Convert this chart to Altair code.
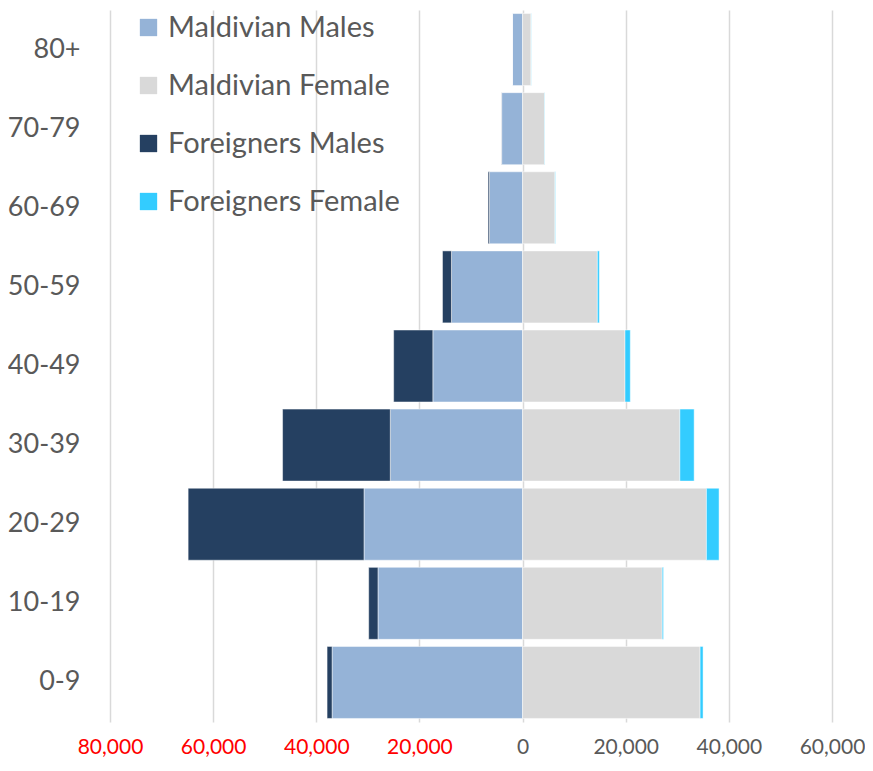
import altair as alt
import pandas as pd

age_groups = ["80+", "70-79", "60-69", "50-59", "40-49", "30-39", "20-29", "10-19", "0-9"]
maldivian_males = [1950, 4060, 6440, 13790, 17400, 25650, 30750, 28040, 36940]
maldivian_female = [1630, 4250, 6270, 14500, 19860, 30500, 35650, 27080, 34420]
foreigners_males = [0, 50, 250, 1740, 7600, 20890, 34100, 1800, 970]
foreigners_female = [50, 80, 100, 390, 1030, 2770, 2450, 250, 580]

series = ["Maldivian Males", "Maldivian Female", "Foreigners Males", "Foreigners Female"]
colors = ["#95B3D7", "#D9D9D9", "#254061", "#33CCFF"]

rows = []
for i, g in enumerate(age_groups):
    mm, mf, fm, ff = maldivian_males[i], maldivian_female[i], foreigners_males[i], foreigners_female[i]
    rows.append({"age": g, "series": series[0], "start": 0, "end": -mm})
    rows.append({"age": g, "series": series[1], "start": 0, "end": mf})
    rows.append({"age": g, "series": series[2], "start": -mm, "end": -(mm + fm)})
    rows.append({"age": g, "series": series[3], "start": mf, "end": mf + ff})
df = pd.DataFrame(rows)

font = "Lato"
gray = "#595959"

chart = alt.Chart(df).mark_bar(stroke="#FFFFFF", strokeWidth=0.8, strokeOpacity=0.6).encode(
    x=alt.X(
        "start:Q",
        scale=alt.Scale(domain=[-80000, 60000], nice=False, zero=False),
        axis=alt.Axis(
            title=None,
            values=[-80000, -60000, -40000, -20000, 0, 20000, 40000, 60000],
            labelExpr="format(abs(datum.value), ',')",
            labelColor=alt.expr("datum.value < 0 ? '#FF0000' : '#595959'"),
            labelFont=font,
            labelFontSize=21,
            labelPadding=14,
            labelFlush=False,
            labelOverlap=False,
            ticks=False,
            domain=False,
            grid=True,
            gridColor="#D9D9D9",
            gridWidth=1.5,
        ),
    ),
    x2="end:Q",
    y=alt.Y(
        "age:N",
        sort=age_groups,
        scale=alt.Scale(paddingInner=0.09, paddingOuter=0.045),
        axis=alt.Axis(
            title=None,
            labelFont=font,
            labelFontSize=27,
            labelColor=gray,
            labelPadding=30,
            ticks=False,
            domain=False,
            grid=False,
        ),
    ),
    color=alt.Color(
        "series:N",
        scale=alt.Scale(domain=series, range=colors),
        legend=alt.Legend(
            title=None,
            orient="none",
            legendX=24,
            legendY=3,
            padding=0,
            symbolType="square",
            symbolSize=300,
            symbolStrokeWidth=0,
            symbolOpacity=1,
            labelFont=font,
            labelFontSize=29,
            labelColor=gray,
            labelOffset=5,
            rowPadding=28,
            labelLimit=400,
        ),
    ),
).properties(
    width=722,
    height=712,
    autosize=alt.AutoSizeParams(type="none"),
    padding={"left": 102, "top": 2, "right": 33, "bottom": 36},
).configure_view(stroke=None)

chart.save("out.html", embed_options={"renderer": "svg", "actions": False})
